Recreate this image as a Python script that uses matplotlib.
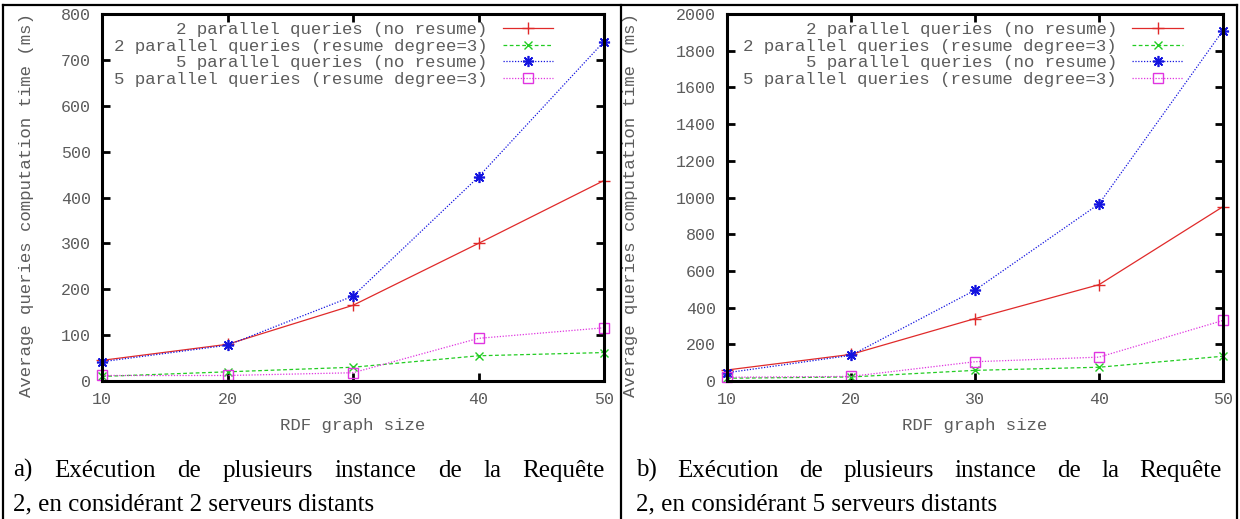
import matplotlib
matplotlib.use("Agg")
import matplotlib.pyplot as plt
import numpy as np
from matplotlib.lines import Line2D
from matplotlib.transforms import Bbox, TransformedBbox

# x values (RDF graph size)
graph_sizes = [10, 20, 30, 40, 50]

# panel a) 2 remote servers
a_two_noresume = [45, 80, 165, 300, 437]
a_two_resume = [10, 20, 30, 55, 62]
a_five_noresume = [42, 78, 185, 445, 740]
a_five_resume = [12, 12, 18, 93, 116]

# panel b) 5 remote servers
b_two_noresume = [60, 145, 340, 525, 950]
b_two_resume = [15, 22, 58, 75, 135]
b_five_noresume = [45, 140, 495, 965, 1910]
b_five_resume = [20, 25, 105, 130, 330]

series_labels = [
    "2 parallel queries (no resume)",
    "2 parallel queries (resume degree=3)",
    "5 parallel queries (no resume)",
    "5 parallel queries (resume degree=3)",
]

captions = [
    ("a) Exécution de plusieurs instance de la Requête",
     "2, en considérant 2 serveurs distants"),
    ("b) Exécution de plusieurs instance de la Requête",
     "2, en considérant 5 serveurs distants"),
]

mono = "Liberation Mono"
serif = "Liberation Serif"
grey = "#5c5c5c"
W, H = 1240, 519

plt.rcParams["font.family"] = mono

styles = [
    dict(color="#e02a2a", ls="-", marker="+", ms=8, mew=1.0),
    dict(color="#22cc22", ls=(0, (3, 2)), marker="x", ms=6, mew=1.0),
    dict(color="#1414e0", ls=(0, (1, 1.3)), marker=(8, 2, 0), ms=8, mew=1.2),
    dict(color="#e035e0", ls=(0, (1, 1.3)), marker="s", ms=7, mfc="none", mew=1.0),
]

fig = plt.figure(figsize=(W / 100, H / 100), dpi=100)


def draw_panel(rect, series, ymax, ystep, legend_x, ylabel_px):
    ax = fig.add_axes(rect)
    for vals, label, st in zip(series, series_labels, styles):
        ax.plot(graph_sizes, vals, label=label, lw=0.9, clip_on=False, **st)
    ax.set_xlim(10, 50)
    ax.set_ylim(0, ymax)
    ax.set_xticks(graph_sizes)
    ax.set_yticks(np.arange(0, ymax + 1, ystep))
    ax.tick_params(direction="in", length=6, width=2, top=True, right=True,
                   labelsize=12, labelcolor=grey, pad=8)
    for s in ax.spines.values():
        s.set_linewidth(2.2)
    ax.set_xlabel("RDF graph size", fontsize=12.5, color=grey, labelpad=8)
    ax.set_ylabel("Average queries computation time (ms)", fontsize=12.5, color=grey)
    # y label anchor is its baseline side, cut it at the top border
    x0 = rect[0] * W
    ax.yaxis.set_label_coords((ylabel_px - x0) / (rect[2] * W), 0.48)
    ax.yaxis.label.set_clip_box(TransformedBbox(Bbox([[0, 0], [1, 1 - 6 / H]]), fig.transFigure))
    ax.yaxis.label.set_clip_on(True)
    ax.legend(loc="upper right", bbox_to_anchor=(legend_x, 0.978), markerfirst=False,
              frameon=False, prop=dict(family=mono, size=12.5), handlelength=2.9,
              handletextpad=0.9, labelspacing=0.08, borderpad=0, borderaxespad=0,
              labelcolor=grey)
    return ax


ax_a = draw_panel([102 / W, 1 - 381 / H, 502 / W, 367 / H],
                  [a_two_noresume, a_two_resume, a_five_noresume, a_five_resume],
                  800, 100, 0.899, 34)
ax_b = draw_panel([727 / W, 1 - 381 / H, 496 / W, 367 / H],
                  [b_two_noresume, b_two_resume, b_five_noresume, b_five_resume],
                  2000, 200, 0.919, 638)

# captions, first line justified like in the word document
renderer = fig.canvas.get_renderer()


def justified(text, x_left, x_right, y_base, size):
    words = text.split(" ")
    arts = [fig.text(0, y_base / H, w, family=serif, size=size, va="baseline") for w in words]
    widths = [a.get_window_extent(renderer).width for a in arts]
    gap = (x_right - x_left - sum(widths)) / (len(words) - 1)
    x = x_left
    for a, w in zip(arts, widths):
        a.set_x(x / W)
        x += w + gap


cap_size = 18
justified(captions[0][0], 13, 605, H - 477, cap_size)
fig.text(13 / W, 1 - 510 / H, captions[0][1], family=serif, size=cap_size, va="baseline")
justified(captions[1][0], 636, 1222, H - 477, cap_size)
fig.text(636 / W, 1 - 510 / H, captions[1][1], family=serif, size=cap_size, va="baseline")

# table borders
border = dict(color="black", lw=1.6, transform=fig.transFigure)
fig.add_artist(Line2D([3 / W, 3 / W], [0, 1 - 5 / H], **border))
fig.add_artist(Line2D([1237 / W, 1237 / W], [0, 1 - 5 / H], **border))
fig.add_artist(Line2D([3 / W, 1237 / W], [1 - 5 / H, 1 - 5 / H], **border))
fig.add_artist(Line2D([621 / W, 621 / W], [0, 1 - 5 / H], **border))

fig.savefig("out.png", dpi=100)
